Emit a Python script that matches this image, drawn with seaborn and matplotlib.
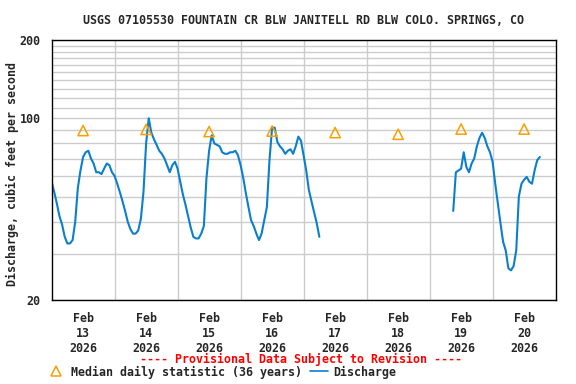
import numpy as np
import pandas as pd
import seaborn as sns
import matplotlib.pyplot as plt
from matplotlib.lines import Line2D

# discharge, cfs, hourly readings
q_start_a = '2026-02-13 00:00'
q_a = [57, 52, 47, 42, 39, 35, 33, 33, 34, 40, 54, 63, 71, 74, 75, 70, 67, 62, 62, 61, 64, 67, 66, 62,
       60, 56, 52, 48, 44, 40, 37.5, 36, 36, 37, 41, 52, 80, 100, 88, 83, 79, 75, 73, 70, 66, 62, 66, 68,
       64, 57, 51, 46.5, 42, 38, 35, 34.5, 34.5, 36, 38.5, 59, 75, 86, 80, 79, 78, 74, 73, 73, 74, 74, 75, 72,
       66, 59, 51.5, 45.5, 40.5, 38.5, 36, 34, 36, 40.5, 45.5, 69, 92, 92, 81, 78, 76, 73, 75, 76, 73, 78, 85, 82,
       72, 63, 53, 48, 43.5, 39.5, 35]
q_start_b = '2026-02-19 09:00'
q_b = [44, 62, 63, 64, 74, 65, 62, 67, 70, 78, 84, 88, 84, 78, 74, 68, 56, 47, 39.5, 33.5,
       31, 26.5, 26, 27, 31, 50, 56, 58, 59.5, 57, 56, 63, 69, 71]

# median daily statistic (36 years), at noon of each day
med_days = ['2026-02-13', '2026-02-14', '2026-02-15', '2026-02-16',
            '2026-02-17', '2026-02-18', '2026-02-19', '2026-02-20']
med_vals = [89.7, 90.6, 88.9, 89.3, 88.1, 86.8, 90.9, 90.9]

y_major = [20, 100, 200]
y_minor = [30, 40, 50, 60, 70, 80, 90, 110, 120, 130, 140, 150, 160, 170, 180, 190]

blue = '#0a7fcf'
orange = '#f9a000'
font = 'DejaVu Sans Mono'

df_a = pd.DataFrame({'time': pd.date_range(q_start_a, periods=len(q_a), freq='h'), 'q': q_a, 'seg': 'a'})
df_b = pd.DataFrame({'time': pd.date_range(q_start_b, periods=len(q_b), freq='h'), 'q': q_b, 'seg': 'b'})
df = pd.concat([df_a, df_b], ignore_index=True)
med = pd.DataFrame({'time': pd.to_datetime(med_days) + pd.Timedelta(hours=12), 'q': med_vals})

sns.set_style('white')
plt.rcParams['font.family'] = [font]
plt.rcParams['font.weight'] = 'bold'

fig = plt.figure(figsize=(5.76, 3.84), dpi=100)
ax = fig.add_axes([51.6 / 576, 1 - 300 / 384, 504 / 576, 260 / 384])

sns.lineplot(data=df, x='time', y='q', units='seg', estimator=None, color=blue,
             lw=1.5, ax=ax)
sns.scatterplot(data=med, x='time', y='q', marker='^', s=55, facecolors='none',
                edgecolor=orange, linewidth=1.1, ax=ax, zorder=3)

ax.set_yscale('log')
ax.set_ylim(20, 200)
ax.set_yticks(y_major)
ax.set_yticklabels([str(v) for v in y_major])
ax.set_yticks(y_minor, minor=True)
ax.yaxis.set_minor_formatter(plt.NullFormatter())

x0 = pd.Timestamp('2026-02-13')
days = pd.date_range(x0, periods=9, freq='D')
ax.set_xlim(days[0], days[-1])
ax.set_xticks(days[1:-1], minor=True)
noons = days[:-1] + pd.Timedelta(hours=12)
ax.set_xticks(noons)
ax.set_xticklabels([f'Feb\n{d.day}\n2026' for d in noons], linespacing=1.15)

ax.grid(False)
ax.grid(True, which='minor', color='#cccccc', lw=1)
ax.grid(True, which='major', axis='y', color='#cccccc', lw=1)
ax.tick_params(which='both', length=0)
ax.tick_params(axis='y', pad=8, labelsize=8.4)
ax.tick_params(axis='x', pad=9, labelsize=8.4)
for s in ax.spines.values():
    s.set_color('black')
    s.set_linewidth(1)
ax.set_xlabel('')
ax.set_ylabel('')

fig.text(303.6 / 576, 1 - 20 / 384, 'USGS 07105530 FOUNTAIN CR BLW JANITELL RD BLW COLO. SPRINGS, CO',
         ha='center', va='center', fontsize=8.4, fontweight='bold')
fig.text(12 / 576, 1 - 174 / 384, 'Discharge, cubic feet per second', rotation=90,
         ha='center', va='center', fontsize=8.4, fontweight='bold')
fig.text(301.5 / 576, 1 - 359.5 / 384, '---- Provisional Data Subject to Revision ----',
         ha='center', va='center', fontsize=8.4, fontweight='bold', color='red')

handles = [Line2D([], [], marker='^', ls='none', mfc='none', mec=orange, ms=7.5, mew=1.1),
           Line2D([], [], color=blue, lw=1.2)]
fig.legend(handles, ['Median daily statistic (36 years)', 'Discharge'], loc='center left',
           bbox_to_anchor=(47.6 / 576, 1 - 372 / 384), ncol=2, frameon=False,
           handlelength=1.5, handletextpad=0.5, columnspacing=0.7, borderpad=0,
           borderaxespad=0, prop={'family': font, 'weight': 'bold', 'size': 8.4})

fig.savefig('out.png', dpi=100)
